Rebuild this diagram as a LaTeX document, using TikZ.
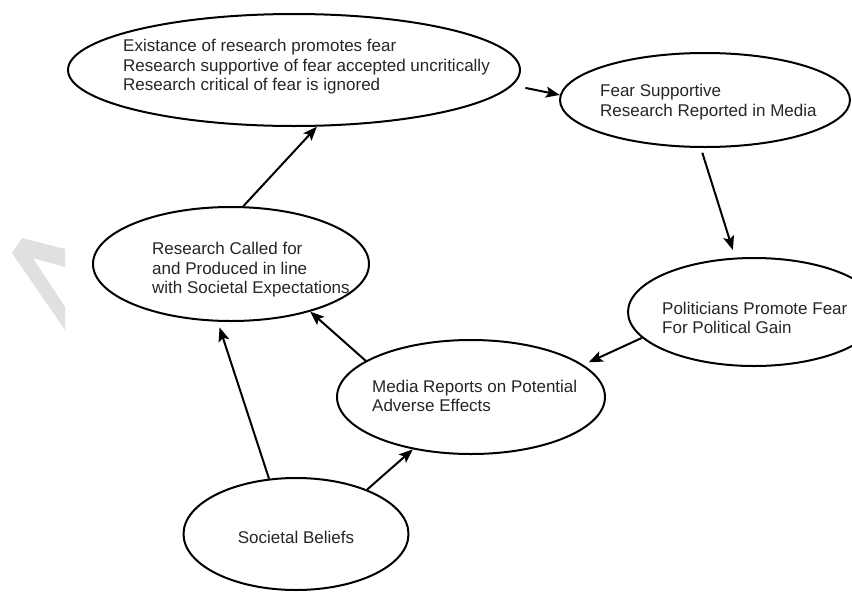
\documentclass[tikz,border=0pt]{standalone}
\usepackage{fontspec}
\setmainfont{Liberation Sans}
\usetikzlibrary{shapes.geometric,arrows.meta}
\tikzset{
  bub/.style={draw=black, line width=2pt, ellipse, inner sep=0pt, fill=white},
  txt/.style={font=\fontsize{17}{19.5}\selectfont, align=left, inner sep=0pt, text=black!85},
  arr/.style={line width=2pt, -{Stealth[length=14pt,width=11pt,inset=3pt]}},
}
\begin{document}
\begin{tikzpicture}[x=1pt,y=-1pt]
\useasboundingbox (0,0) rectangle (852,592);
\clip (0,0) rectangle (852,592);
\fill[white] (0,0) rectangle (852,592);
% faint watermark
\fill[black!12] (12,253) -- (22,238) -- (65,249) -- (65,267) -- (33,258) -- (65,307) -- (65,330) -- cycle;

\node[bub, minimum width=452pt, minimum height=112pt] (e1) at (294,70) {};
\node[bub, minimum width=290pt, minimum height=94pt]  (e2) at (705,100) {};
\node[bub, minimum width=252pt, minimum height=108pt] (e3) at (754,312) {};
\node[bub, minimum width=276pt, minimum height=114pt] (e4) at (231,264) {};
\node[bub, minimum width=268pt, minimum height=114pt] (e5) at (471,397) {};
\node[bub, minimum width=225pt, minimum height=112pt] (e6) at (296,534) {};

\node[txt, anchor=west] (t1) at (123,67) {Existance of research promotes fear\\Research supportive of fear accepted uncritically\\Research critical of fear is ignored};
\node[txt, anchor=west] (t2) at (600,102) {Fear Supportive\\Research Reported in Media};
\node[txt, anchor=west] (t3) at (662,318) {Politicians Promote Fear\\For Political Gain};
\node[txt, anchor=west] (t4) at (152,270) {Research Called for\\and Produced in line\\with Societal Expectations};
\node[txt, anchor=west] (t5) at (372,396) {Media Reports on Potential\\Adverse Effects};
\node[txt] (t6) at (296,537) {Societal Beliefs};

\draw[arr] (e4.78) -- (e1.292.5);
\draw[arr, shorten <=13pt] (e1.-4) -- (e2.178);
\draw[arr, shorten <=5pt, shorten >=8pt] (e2.265.6) -- (e3.109.5);
\draw[arr, shorten >=6pt] (e3.193.8) -- (e5.16.2);
\draw[arr] (e5.161.3) -- (e4.-31.3);
\draw[arr, shorten >=6pt] (e6.116.6) -- (e4.257.5);
\draw[arr] (e6.32) -- (e5.222.4);
\end{tikzpicture}
\end{document}
